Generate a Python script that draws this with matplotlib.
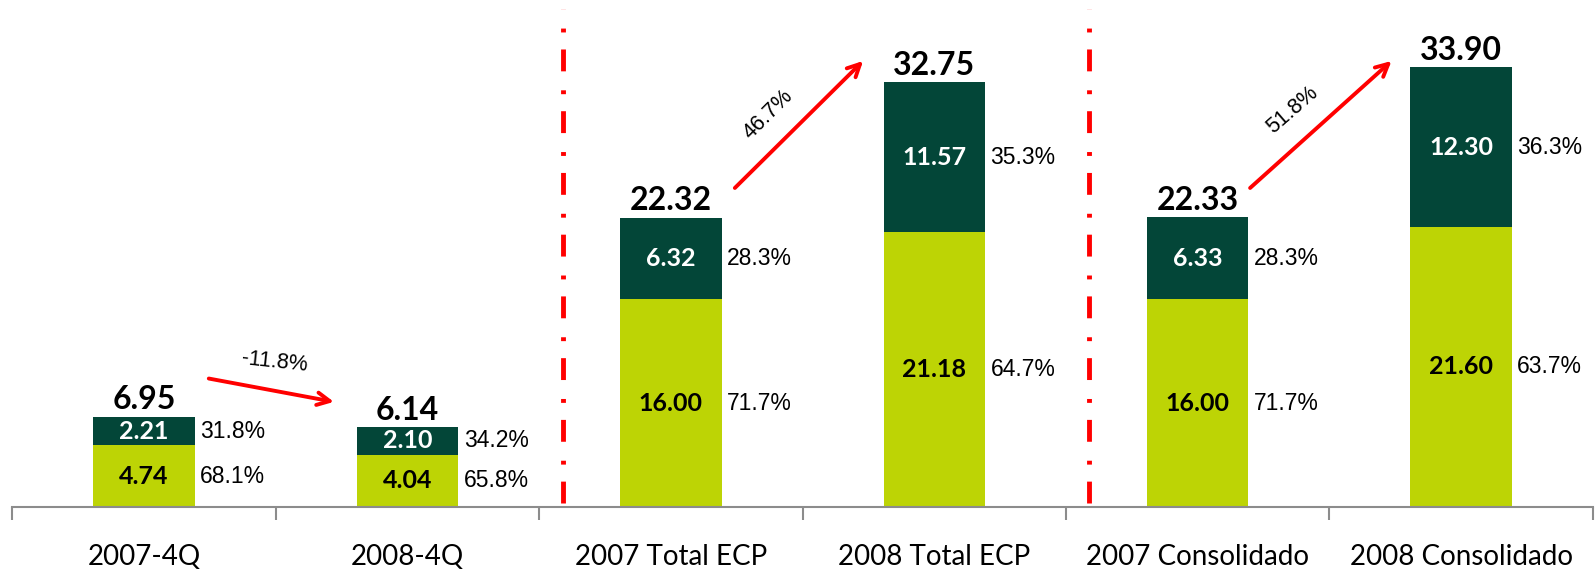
import matplotlib
matplotlib.use("Agg")
import matplotlib.pyplot as plt
import numpy as np

categories = ['2007-4Q', '2008-4Q', '2007 Total ECP', '2008 Total ECP',
              '2007 Consolidado', '2008 Consolidado']
bottom_vals = [4.74, 4.04, 16.00, 21.18, 16.00, 21.60]
top_vals = [2.21, 2.10, 6.32, 11.57, 6.33, 12.30]
totals = [6.95, 6.14, 22.32, 32.75, 22.33, 33.90]
pct_bottom = ['68.1%', '65.8%', '71.7%', '64.7%', '71.7%', '63.7%']
pct_top = ['31.8%', '34.2%', '28.3%', '35.3%', '28.3%', '36.3%']
growth = ['-11.8%', '46.7%', '51.8%']

plt.rcParams['font.family'] = ['Lato', 'DejaVu Sans']
ARIAL = ['Liberation Sans', 'DejaVu Sans']

LIGHT = '#BDD405'
DARK = '#034638'

fig = plt.figure(figsize=(15.96, 5.76), dpi=100)
ax = fig.add_axes([0.0077, 0.12, 0.9903, 0.88])

x = np.arange(len(categories))
w = 0.385
ax.bar(x, bottom_vals, w, color=LIGHT, edgecolor='none')
ax.bar(x, top_vals, w, bottom=bottom_vals, color=DARK, edgecolor='none')

ax.set_xlim(-0.5, len(categories) - 0.5)
ax.set_ylim(0, 39.1)

for i in range(len(categories)):
    b = bottom_vals[i]
    t = top_vals[i]
    ax.text(x[i], b / 2, f'{b:.2f}', ha='center', va='center',
            fontsize=18, fontweight='bold', color='black')
    ax.text(x[i], b + t / 2, f'{t:.2f}', ha='center', va='center',
            fontsize=18, fontweight='bold', color='white')
    ax.annotate(pct_bottom[i], (x[i] + w / 2, b / 2), xytext=(4, 0),
                textcoords='offset points', ha='left', va='center',
                fontsize=16.5, color='black', family=ARIAL)
    ax.annotate(pct_top[i], (x[i] + w / 2, b + t / 2), xytext=(4, 0),
                textcoords='offset points', ha='left', va='center',
                fontsize=16.5, color='black', family=ARIAL)
    ax.annotate(f'{totals[i]:.2f}', (x[i], totals[i]), xytext=(0, 2),
                textcoords='offset points', ha='center', va='bottom',
                fontsize=23, fontweight='bold', color='black')

# growth arrows
arrows = [((0.246, 9.9), (0.721, 8.1)),
          ((2.243, 24.6), (2.73, 34.4)),
          ((4.199, 24.6), (4.736, 34.4))]
labels_pos = [((0.497, 11.2), -6), ((2.37, 30.3), 45), ((4.36, 30.6), 41)]
for (s, e), g, (lp, rot) in zip(arrows, growth, labels_pos):
    ax.annotate('', xy=e, xytext=s,
                arrowprops=dict(arrowstyle='->,head_length=0.9,head_width=0.45',
                                color='#FF0000', lw=2.8, shrinkA=0, shrinkB=0))
    ax.text(lp[0], lp[1], g, ha='center', va='center', rotation=rot,
            fontsize=15.5, color='black', rotation_mode='anchor', family=ARIAL)

# separators
for sx in [1.59, 3.588]:
    ax.plot([sx, sx], [0.3, 38.4], color='#FF0000', lw=3.5,
            ls=(0, (4.5, 3.5, 0.8, 3.9)), solid_capstyle='butt',
            dash_capstyle='butt')

for s in ['top', 'right', 'left']:
    ax.spines[s].set_visible(False)
ax.spines['bottom'].set_color('#8C8C8C')
ax.spines['bottom'].set_linewidth(1.5)
ax.set_yticks([])
ax.set_xticks(x)
ax.set_xticklabels(categories, fontsize=20)
ax.tick_params(axis='x', which='major', length=0, pad=27)
ax.set_xticks(np.arange(-0.5, len(categories)), minor=True)
ax.tick_params(axis='x', which='minor', length=9, width=1.5, color='#8C8C8C',
               direction='out')

fig.savefig('out.png', dpi=100)
